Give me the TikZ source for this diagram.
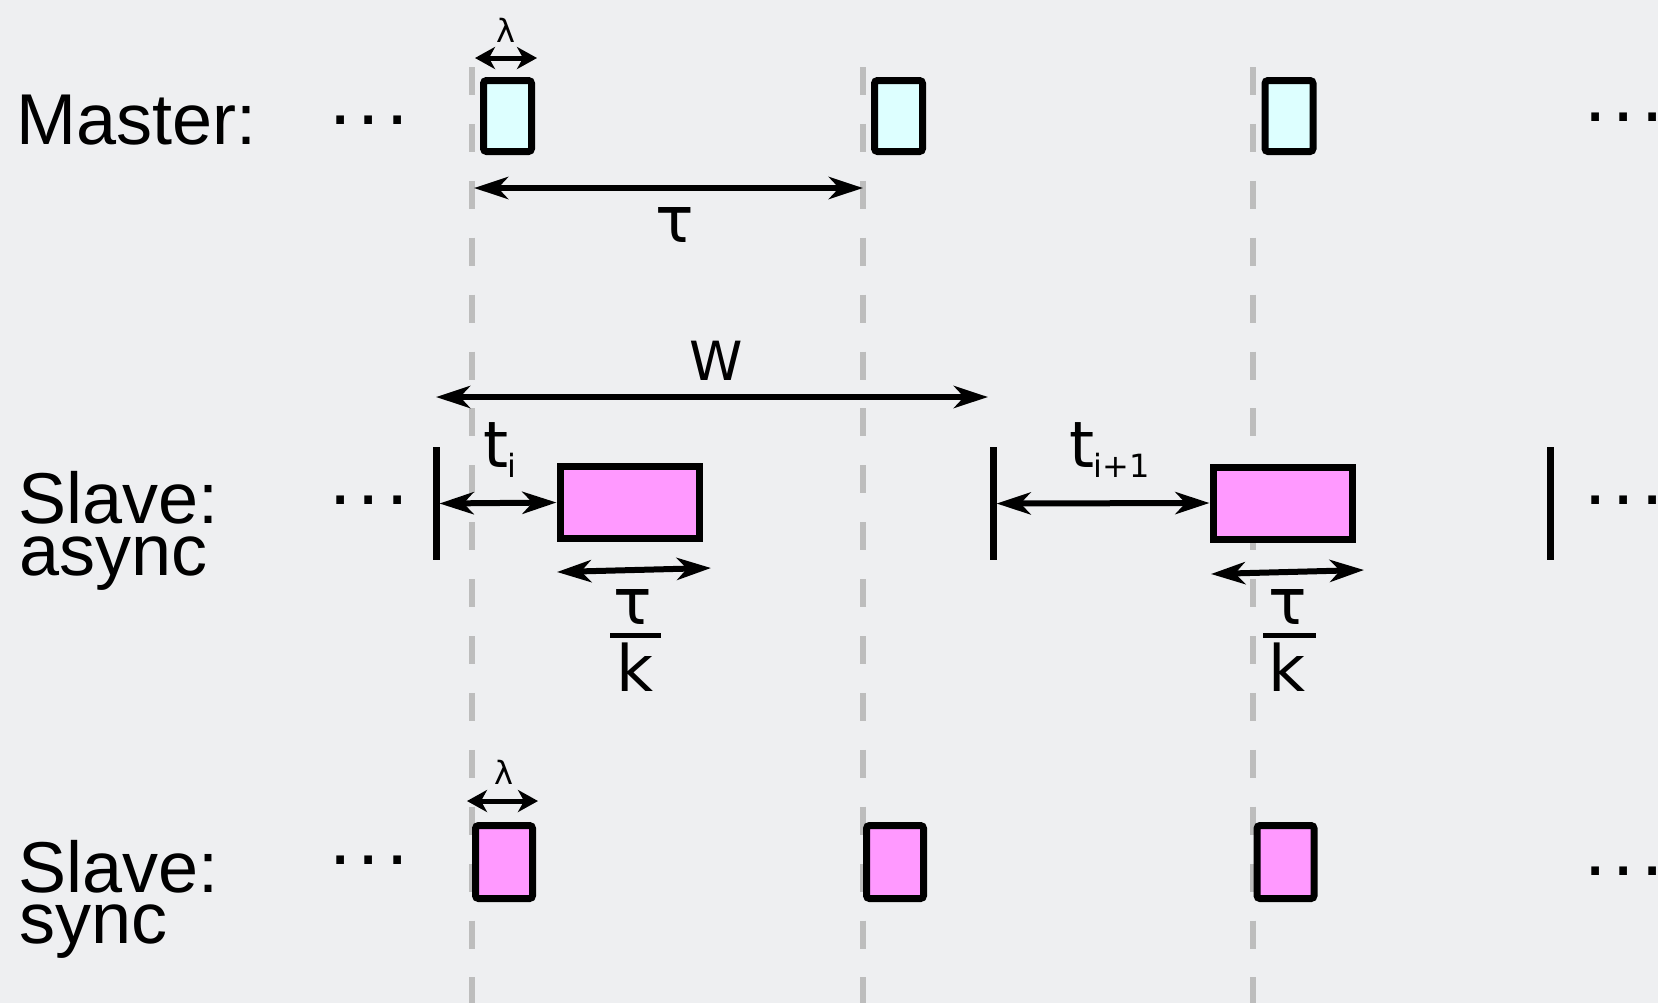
\documentclass[tikz,border=0pt]{standalone}
\usepackage{fontspec}
\setmainfont{Liberation Sans}
\newfontfamily\dejavu{DejaVu Sans}
\usetikzlibrary{arrows.meta}

\definecolor{bgcol}{HTML}{EEEFF1}
\definecolor{guidecol}{HTML}{BDBDBD}
\definecolor{cyanfill}{HTML}{DDFFFF}
\definecolor{pinkfill}{HTML}{FF99FF}

\newcommand\tdots{.\kern3.13pt.\kern3.13pt.}

\tikzset{
  rowlbl/.style={anchor=base west, inner sep=0, font=\fontsize{36}{40}\selectfont},
  dotsnode/.style={anchor=base west, inner sep=0, font=\fontsize{40}{44}\selectfont},
  symlbl/.style={anchor=base, inner sep=0, font=\dejavu\fontsize{32}{36}\selectfont},
  lamlbl/.style={anchor=base, inner sep=0, font=\dejavu\fontsize{16}{18}\selectfont},
  guideline/.style={draw=guidecol, line width=3pt, dash pattern=on 14pt off 14.45pt},
  mbox/.style={draw, line width=3.5pt, fill=cyanfill, rounded corners=1.5pt, minimum width=24pt, minimum height=35.5pt, inner sep=0},
  abox/.style={draw, line width=3.5pt, fill=pinkfill, minimum width=69.5pt, minimum height=36pt, inner sep=0},
  sbox/.style={draw, line width=3.5pt, fill=pinkfill, rounded corners=1.5pt, minimum width=28.5pt, minimum height=36.5pt, inner sep=0},
  tickbar/.style={fill=black, minimum width=3.5pt, minimum height=56.5pt, inner sep=0, outer sep=0},
  dimarrow/.style={line width=3pt, {Stealth[length=17pt,width=11pt,inset=5pt]}-{Stealth[length=17pt,width=11pt,inset=5pt]}},
  smalldim/.style={line width=2.5pt, {Stealth[length=10pt,width=11pt,inset=3pt]}-{Stealth[length=10pt,width=11pt,inset=3pt]}},
}

\begin{document}
\begin{tikzpicture}[x=0.5pt, y=-0.5pt]
\fill[bgcol] (0,0) rectangle (1658,1003);
\useasboundingbox (0,0) rectangle (1658,1003);

% guide lines
\foreach \gx in {472,863,1253}
  \draw[guideline] (\gx,67) -- (\gx,1003);

% row labels
\node[rowlbl] (master) at (16,144) {Master:};
\node[rowlbl] (slaveA) at (18,523) {Slave:};
\node[rowlbl] (async)  at (19,575) {async};
\node[rowlbl] (slaveS) at (18,892) {Slave:};
\node[rowlbl] (sync)   at (19,943) {sync};

% dots
\node[dotsnode] (dML) at (329,124.5) {\tdots};
\node[dotsnode] (dAL) at (329,504) {\tdots};
\node[dotsnode] (dSL) at (329,864) {\tdots};
\node[dotsnode] (dMR) at (1584,121) {\tdots};
\node[dotsnode] (dAR) at (1584,504) {\tdots};
\node[dotsnode] (dSR) at (1584,875.5) {\tdots};

% master boxes
\node[mbox] (m1) at (507.5,116) {};
\node[mbox] (m2) at (898.5,116) {};
\node[mbox] (m3) at (1289,116) {};

% sync boxes
\node[sbox] (s1) at (504,862) {};
\node[sbox] (s2) at (895,862) {};
\node[sbox] (s3) at (1285.5,862) {};

% async boxes and bars
\node[abox] (a1) at (629.5,502.5) {};
\node[abox] (a2) at (1282.5,503) {};
\node[tickbar] (b1) at (436,503.5) {};
\node[tickbar] (b2) at (993,503.5) {};
\node[tickbar] (b3) at (1550,503.5) {};

% master lambda
\coordinate (lamAL) at (475,58);
\coordinate (lamAR) at (537,58);
\draw[smalldim] (lamAL) -- (lamAR);
\node[lamlbl] (lamA) at (506,42) {λ};

% master tau
\coordinate (tauL) at (474,188);
\coordinate (tauR) at (863,188);
\draw[dimarrow] (tauL) -- (tauR);
\node[symlbl] (tauM) at (675,242) {τ};

% W
\coordinate (wL) at (436,397);
\coordinate (wR) at (988,397);
\draw[dimarrow] (wL) -- (wR);
\node[symlbl, font=\dejavu\fontsize{27}{30}\selectfont] (wlbl) at (716,380) {W};

% t_i
\draw[dimarrow] (b1.east) -- (a1.west);
\node[symlbl, anchor=base west] (ti) at (483,467) {t\kern-0.5pt\lower5pt\hbox{\fontsize{16}{18}\selectfont i}};
\draw[dimarrow] (b2.east) -- (a2.west);
\node[symlbl, anchor=base west] (tii) at (1069,467) {t\kern-0.5pt\lower5pt\hbox{\fontsize{16}{18}\selectfont i+1}};

% tau/k
\coordinate (fAL) at (557,572);
\coordinate (fAR) at (711,568);
\draw[dimarrow] (fAL) -- (fAR);
\node[symlbl] (tauA) at (633,624) {τ};
\draw[line width=2.5pt] (610,635) -- (661,635);
\node[symlbl] (kA) at (635,691) {k};

\coordinate (fBL) at (1211,574);
\coordinate (fBR) at (1364,570);
\draw[dimarrow] (fBL) -- (fBR);
\node[symlbl] (tauB) at (1287.5,624) {τ};
\draw[line width=2.5pt] (1263,635) -- (1316,635);
\node[symlbl] (kB) at (1287,691) {k};

% sync lambda
\coordinate (lamBL) at (467,801);
\coordinate (lamBR) at (538,801);
\draw[smalldim] (lamBL) -- (lamBR);
\node[lamlbl] (lamB) at (504,784) {λ};
\end{tikzpicture}
\end{document}
